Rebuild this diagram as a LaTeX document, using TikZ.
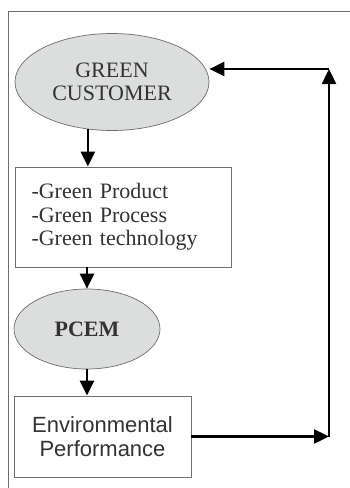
\documentclass[tikz,border=0pt]{standalone}
\usepackage{fontspec}
\setmainfont{Liberation Serif}
\newfontfamily\arialfont{Liberation Sans}
\usepackage{tikz}
\usetikzlibrary{shapes.geometric,arrows.meta,calc,positioning}

\definecolor{ovalfill}{HTML}{DCDDDD}
\definecolor{inkgray}{HTML}{333333}
\definecolor{rulegray}{HTML}{6E6E6E}

\tikzset{
	oval/.style={ellipse,draw=rulegray,line width=0.7pt,fill=ovalfill,inner sep=0pt,text=inkgray},
	plainbox/.style={rectangle,draw=rulegray,line width=0.8pt,fill=white,inner sep=0pt,text=inkgray},
	flow/.style={line width=2.4pt,-{Triangle[length=15pt,width=14pt]}},
	bigtext/.style={font=\fontsize{22}{23.5}\selectfont}
}

\begin{document}
\begin{tikzpicture}[x=1pt,y=-1pt]
	\useasboundingbox (0,0) rectangle (350,488);
	
	% ---------- outer frame ----------
	\draw[rulegray,line width=0.9pt] (8,488) -- (8,11) -- (352,11);
	
	% ---------- nodes ----------
	\node[oval,bigtext,align=center,minimum width=194pt,minimum height=97pt] (cust) at (112,82) {GREEN\\CUSTOMER};
	\node[plainbox,bigtext,align=left,text width=183pt,inner xsep=16.5pt,minimum height=100pt] (attr) at (123,217)
		{-Green Product\\-Green Process\\-Green technology};
	\node[oval,bigtext,minimum width=146pt,minimum height=80pt] (pcem) at (87,329) {\bfseries PCEM};
	\node[plainbox,bigtext,align=center,minimum width=177pt,minimum height=81pt] (perf) at (102.5,436.5)
		{\arialfont Environmental\\\arialfont Performance};
	
	% corners of the feedback loop
	\coordinate (looptr) at (329,69);
	
	% ---------- main flow ----------
	\draw[flow] (cust.-117) -- (cust.-117 |- attr.north);
	\draw[flow] (attr.south -| pcem.north) -- (pcem.north);
	\draw[flow] (pcem.south) -- (pcem.south |- perf.north);
	
	% ---------- feedback loop ----------
	\draw[flow] (perf.east) -- (perf.east -| looptr);
	\draw[flow] (perf.east -| looptr) -- (looptr);
	\draw[flow] (looptr) -- (looptr -| cust.east);
	
\end{tikzpicture}
\end{document}
